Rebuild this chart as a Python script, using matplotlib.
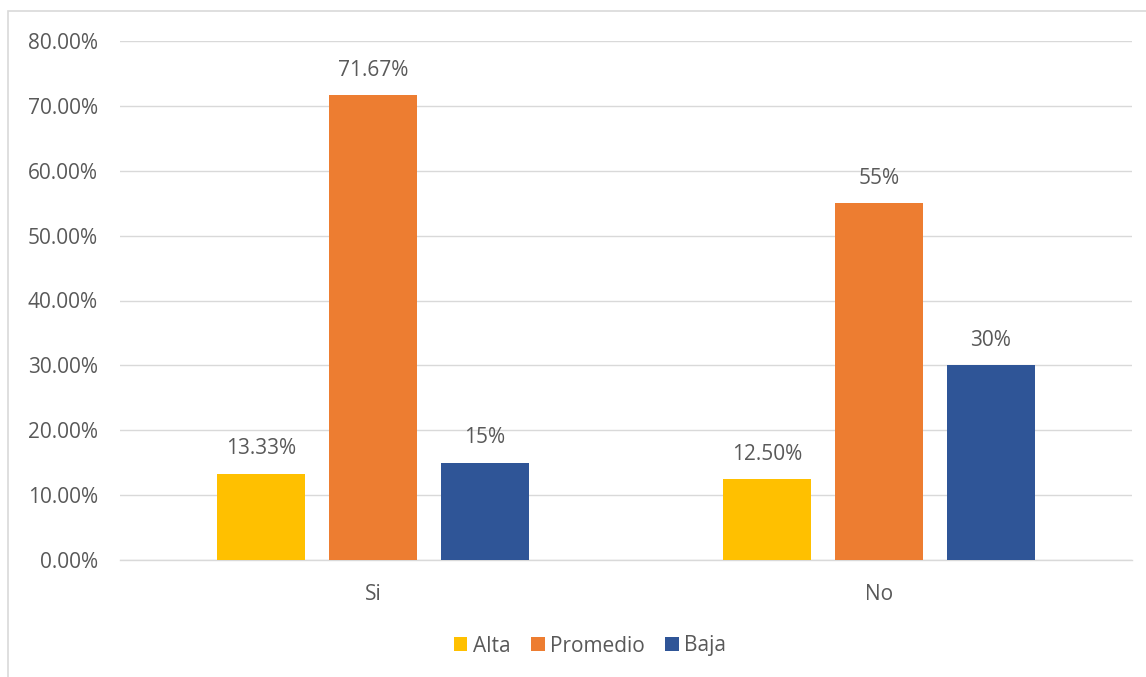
import matplotlib.pyplot as plt
from matplotlib.patches import Rectangle

categories = ["Si", "No"]
series = ["Alta", "Promedio", "Baja"]
alta = [13.33, 12.50]
promedio = [71.67, 55.0]
baja = [15.0, 30.0]
bar_labels = [["13.33%", "12.50%"], ["71.67%", "55%"], ["15%", "30%"]]
yticks = [0, 10, 20, 30, 40, 50, 60, 70, 80]

colors = ["#FFC000", "#ED7D31", "#2F5597"]
text_color = "#595959"
plt.rcParams["font.family"] = ["Open Sans", "DejaVu Sans"]
fs = 15

fig = plt.figure(figsize=(11.46, 6.77), dpi=100)
ax = fig.add_axes([120 / 1146, 1 - 560 / 677, 1012 / 1146, 519 / 677])

# chart frame, runs off the right and bottom edges
fig.patches.append(Rectangle((8 / 1146, -0.05), 1.1, 1 - 11 / 677 + 0.05,
                             transform=fig.transFigure, fill=False,
                             edgecolor="#d9d9d9", linewidth=1.2))

width = 0.174
step = 0.221
x = list(range(len(categories)))
for i, (name, vals) in enumerate(zip(series, [alta, promedio, baja])):
    pos = [xi + (i - 1) * step for xi in x]
    ax.bar(pos, vals, width=width, color=colors[i], label=name, zorder=3)
    for p, v, lab in zip(pos, vals, bar_labels[i]):
        ax.text(p, v + 2.2, lab, ha="center", va="bottom",
                fontsize=fs, color=text_color)

ax.set_xlim(-0.5, 1.5)
ax.set_ylim(0, 80)
ax.set_yticks(yticks)
ax.set_yticklabels([f"{t:.2f}%" for t in yticks])
ax.set_xticks(x)
ax.set_xticklabels(categories)
ax.tick_params(axis="both", length=0, labelsize=fs, labelcolor=text_color)
ax.tick_params(axis="y", pad=16)
ax.tick_params(axis="x", pad=17)
ax.grid(axis="y", color="#d9d9d9", linewidth=1.0, zorder=0)
for s in ["top", "right", "left"]:
    ax.spines[s].set_visible(False)
ax.spines["bottom"].set_color("#d9d9d9")
ax.spines["bottom"].set_linewidth(1.0)

leg = fig.legend(loc="center", bbox_to_anchor=(590 / 1146, 1 - 646 / 677),
                 ncol=3, frameon=False, fontsize=fs, handlelength=0.65,
                 handleheight=0.65, handletextpad=0.25, columnspacing=1.0)
for t in leg.get_texts():
    t.set_color(text_color)

fig.savefig("out.png", dpi=100)
